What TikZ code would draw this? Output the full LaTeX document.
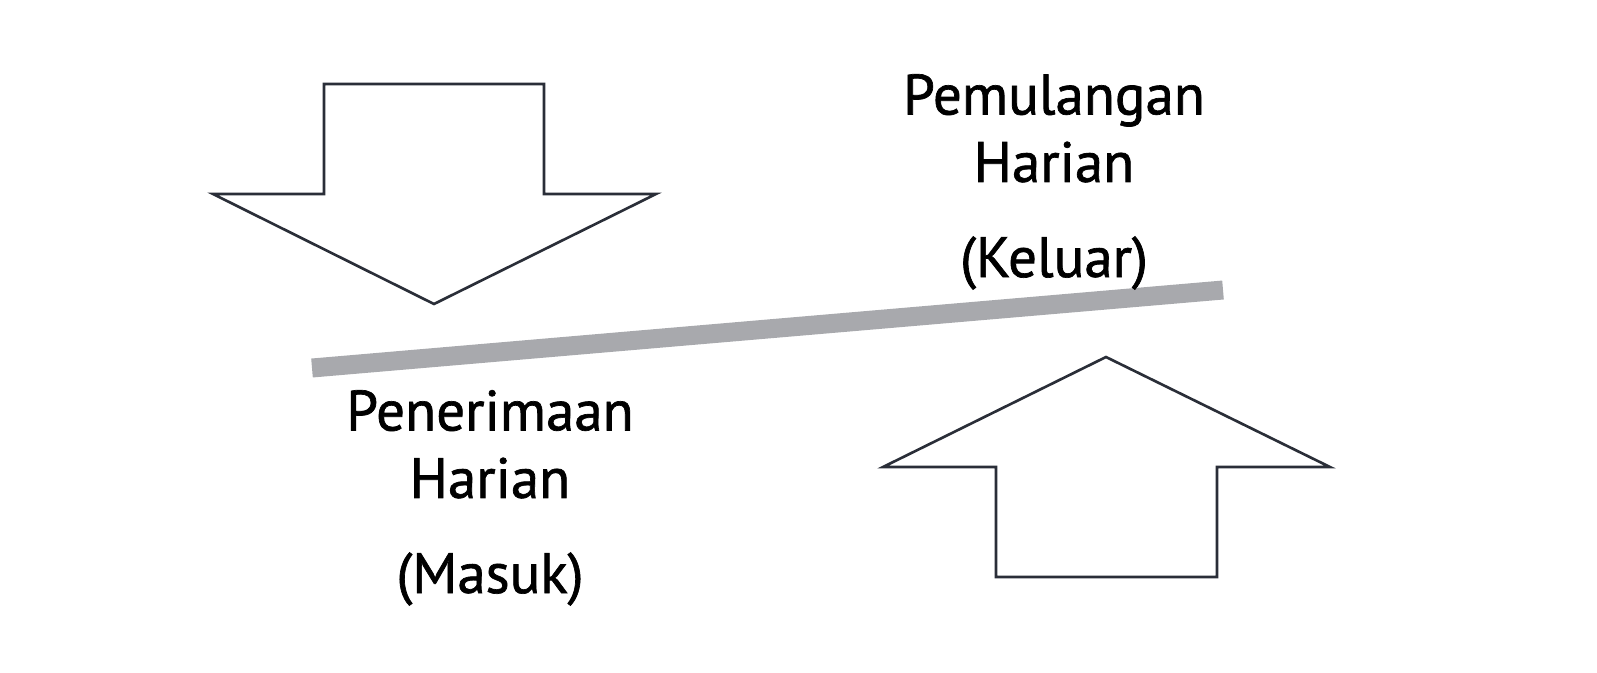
\documentclass[tikz,border=0pt]{standalone}
\usepackage{fontspec}
\setmainfont{PT Sans}[FakeBold=1.2]
\definecolor{edgegray}{RGB}{42,46,56}
\definecolor{beamgray}{RGB}{168,169,173}
\begin{document}
\begin{tikzpicture}[x=0.01cm, y=-0.01cm,
  outline/.style={draw=edgegray, line width=0.75pt, line join=miter, fill=white},
  beam/.style={draw=beamgray, line width=5.4pt},
  caption/.style={align=center, font=\fontsize{16.2}{19.2}\selectfont, inner sep=0pt}]
\useasboundingbox (0,0) rectangle (1597,672);
% down arrow, incoming
\draw[outline] (324,84) -- (544,84) -- (544,194) -- (656,194) -- (434,304)
  -- (213,194) -- (324,194) -- cycle;
% up arrow, outgoing
\draw[outline] (996,577) -- (1217,577) -- (1217,467) -- (1330,467) -- (1106,357)
  -- (883,467) -- (996,467) -- cycle;
% tilted beam
\coordinate (beamL) at (312,368);
\coordinate (beamR) at (1223,290);
\draw[beam] (beamL) -- (beamR);
\node[caption, anchor=base] (keluar) at (1054,277) {Pemulangan\\Harian\\[0.275cm](Keluar)};
\node[caption, anchor=base] (masuk) at (490,593) {Penerimaan\\Harian\\[0.275cm](Masuk)};
\end{tikzpicture}
\end{document}
